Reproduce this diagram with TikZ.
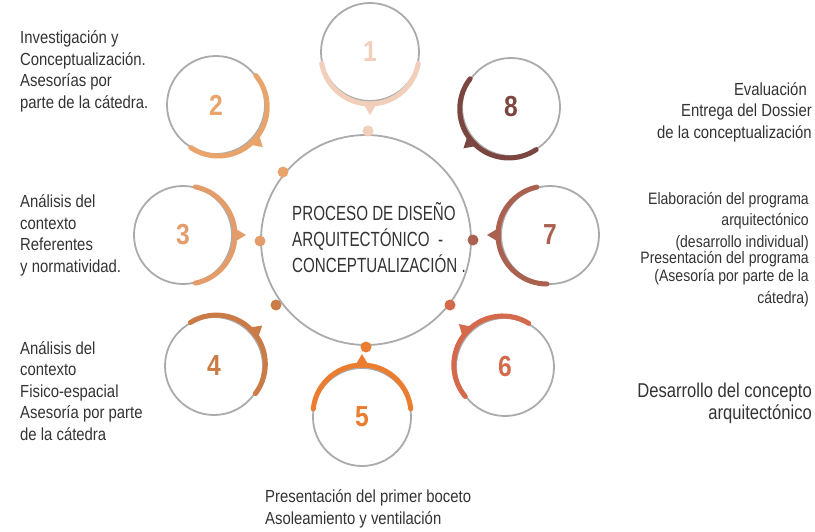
\documentclass[tikz,border=0pt]{standalone}
\usepackage{fontspec}
\setmainfont{Liberation Sans}[FakeStretch=0.85]
\newfontfamily\ctrfont{Liberation Sans}[FakeStretch=0.74]
\newfontfamily\numfont{Liberation Sans Bold}[FakeStretch=0.85]
\newfontfamily\bigfont{Liberation Sans}[FakeStretch=0.83]
\definecolor{colA}{HTML}{F2CFBA}
\definecolor{colB}{HTML}{E9A46B}
\definecolor{colC}{HTML}{E49C6A}
\definecolor{colD}{HTML}{CB7B46}
\definecolor{colE}{HTML}{EA7D30}
\definecolor{colF}{HTML}{D4694C}
\definecolor{colG}{HTML}{AB614F}
\definecolor{colH}{HTML}{7B4640}
\definecolor{ringgray}{HTML}{ABABAB}
\definecolor{txtgray}{HTML}{333333}
\newcommand\stepring[5]{%
  \begin{scope}[shift={(#1.center)}, shift={(#5:3pt)}]
    \draw[line width=5pt, line cap=round, draw=#2] (#3:49pt) arc[start angle=#3, end angle=#4, radius=49pt];
    \fill[#2] ({#5-10}:47pt) -- (#5:60pt) -- ({#5+10}:47pt) -- cycle;
  \end{scope}}
\begin{document}
\begin{tikzpicture}[x=1pt,y=1pt,
  ringnode/.style={circle, draw=ringgray, line width=1.8pt, minimum size=98pt, inner sep=0pt,
     font=\numfont\fontsize{29}{29}\selectfont},
  dotnode/.style={circle, fill=#1, minimum size=11pt, inner sep=0pt},
  lbl/.style={inner sep=0pt, text=txtgray, font=\fontsize{17.5}{21.5}\selectfont},
  lblleft/.style={lbl, align=left, anchor=base west},
  lblright/.style={lbl, align=right, anchor=base east}]
\useasboundingbox (0,0) rectangle (815,-531);

% central circle
\node[circle, draw=ringgray, line width=1.8pt, minimum size=210pt, inner sep=0pt] (C) at (366,-240) {};
\node[inner sep=0pt, text=txtgray, align=left, anchor=base west,
      font=\ctrfont\fontsize{20.5}{26}\selectfont] (ctext) at (292,-272.5)
  {PROCESO DE DISEÑO\\ARQUITECTÓNICO~~-\\CONCEPTUALIZACIÓN .};

% dots on central circle
\node[dotnode=colA] (d1) at (368,-131) {};
\node[dotnode=colB] (d2) at (283,-172) {};
\node[dotnode=colC] (d3) at (260,-241) {};
\node[dotnode=colD] (d4) at (276,-305) {};
\node[dotnode=colE] (d5) at (366,-347) {};
\node[dotnode=colF] (d6) at (450,-305) {};
\node[dotnode=colG] (d7) at (473,-240) {};

% step circles
\node[ringnode, text=colA] (s1) at (370,-52) {1};
\node[ringnode, text=colB] (s2) at (216,-105) {2};
\node[ringnode, text=colC] (s3) at (183,-235) {3};
\node[ringnode, text=colD] (s4) at (214,-366) {4};
\node[ringnode, text=colE] (s5) at (362,-417) {5};
\node[ringnode, text=colF] (s6) at (505,-367) {6};
\node[ringnode, text=colG] (s7) at (550,-235) {7};
\node[ringnode, text=colH] (s8) at (511,-107) {8};

\stepring{s1}{colA}{190}{350}{270}
\stepring{s2}{colB}{40}{-124}{-42}
\stepring{s3}{colC}{79}{-79}{0}
\stepring{s4}{colD}{122}{-37}{40}
\stepring{s5}{colE}{174}{6}{90}
\stepring{s6}{colF}{58}{220}{137}
\stepring{s7}{colG}{102}{270}{180}
\stepring{s8}{colH}{142}{304}{221}

% labels
\node[lblleft] (t2) at (20,-108) {Investigación y\\Conceptualización.\\Asesorías por\\parte de la cátedra.};
\node[lblleft] (t3) at (20,-272) {Análisis del\\contexto\\Referentes\\y normatividad.};
\node[lblleft] (t4) at (20,-440) {Análisis del\\contexto\\Fisico-espacial\\Asesoría por parte\\de la cátedra};
\node[lblleft] (t5) at (265,-524) {Presentación del primer boceto\\Asoleamiento y ventilación};
\node[lblright] (t8) at (812,-138) {Evaluación\hspace*{5pt}\\Entrega del Dossier\hspace*{7pt}\\de la conceptualización};
\node[lblright, font=\fontsize{16.5}{21.5}\selectfont] (t7) at (809,-303) {Elaboración del programa\\[-0.5pt]arquitectónico\\[0.5pt](desarrollo individual)\\[-5.5pt]Presentación del programa\\[-3.5pt](Asesoría por parte de la\hspace*{4pt}\\[0.5pt]cátedra)};
\node[inner sep=0pt, text=txtgray, align=right, anchor=base east,
      font=\bigfont\fontsize{20}{22}\selectfont] (t6) at (812,-419) {Desarrollo del concepto\\arquitectónico};
\end{tikzpicture}
\end{document}
